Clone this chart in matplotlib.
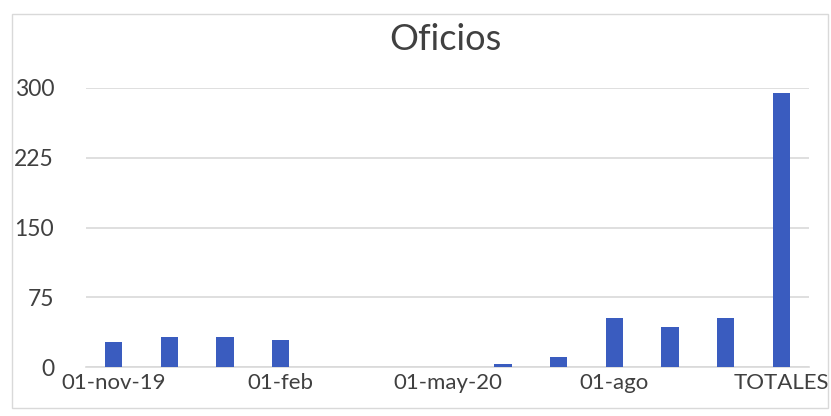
import matplotlib.pyplot as plt
from matplotlib.patches import Rectangle
import numpy as np

plt.rcParams['font.family'] = ['Lato', 'DejaVu Sans']

# months nov-19 .. oct-20 plus the total column
categories = ["01-nov-19", "01-dic", "01-ene", "01-feb", "01-mar", "01-abr",
              "01-may-20", "01-jun", "01-jul", "01-ago", "01-sep", "01-oct", "TOTALES"]
values = [27, 32, 32, 29, 0, 0, 0, 3, 11, 53, 43, 53, 295]
shown_labels = ["01-nov-19", "01-feb", "01-may-20", "01-ago", "TOTALES"]
yticks = [0, 75, 150, 225, 300]

BAR = "#3a5cbf"
TEXT = "#404040"
GRID = "#d9d9d9"

fig = plt.figure(figsize=(8.31, 4.16), dpi=100)
fig.patches.append(Rectangle((12 / 831, 8 / 416), 816 / 831, 394 / 416,
                             transform=fig.transFigure, fill=False,
                             edgecolor="#d9d9d9", linewidth=1.0))

ax = fig.add_axes([86 / 831, 49 / 416, 723 / 831, 279 / 416])
x = np.arange(len(categories))
ax.bar(x, values, width=0.31, color=BAR, zorder=3)

ax.set_xlim(-0.5, len(categories) - 0.5)
ax.set_ylim(0, 300)
ax.set_yticks(yticks)
ax.set_yticklabels([str(v) for v in yticks], fontsize=16.5, color=TEXT)
ax.set_xticks([categories.index(c) for c in shown_labels])
ax.set_xticklabels(shown_labels, fontsize=16, color=TEXT)
ax.tick_params(axis="both", length=0)
ax.tick_params(axis="y", pad=23)
ax.tick_params(axis="x", pad=4)

ax.grid(axis="y", color=GRID, linewidth=1.2, zorder=0)
for side in ["top", "right", "left"]:
    ax.spines[side].set_visible(False)
ax.spines["bottom"].set_color(GRID)
ax.spines["bottom"].set_linewidth(1.2)

fig.text(445 / 831, 1 - 40 / 416, "Oficios", fontsize=26, color=TEXT,
         ha="center", va="center")

plt.savefig("out.png", dpi=100)
plt.close()
